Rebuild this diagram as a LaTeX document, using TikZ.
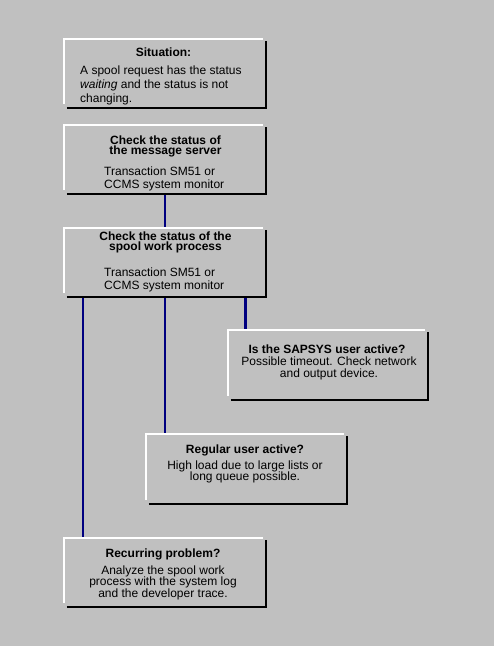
\documentclass[tikz,border=0pt]{standalone}
\usepackage{fontspec}
\setmainfont{Liberation Sans}
\usepackage{tikz}
\usepackage{xcolor}
\definecolor{Panel}{RGB}{192,192,192}
\definecolor{Wire}{RGB}{0,0,128}
\lineskiplimit=-20pt
\tikzset{
  panel/.style={minimum width=202pt, minimum height=69pt, inner sep=0pt},
  hilite/.style={white, line width=2pt},
  lowlite/.style={black, line width=2pt},
  wire/.style={Wire, line width=2pt},
  head/.style={font=\fontsize{12}{#1}\selectfont\bfseries, inner sep=0pt, align=center, anchor=north},
  head/.default=10.5,
  body/.style={font=\fontsize{12}{#1}\selectfont, inner sep=0pt, align=center, anchor=north},
  body/.default=13
}

\begin{document}
\begin{tikzpicture}[x=1pt,y=-1pt]
\fill[Panel] (0,0) rectangle (494,646);
\useasboundingbox (0,0) rectangle (494,646);
%
% panels
\node[panel] (sit) at (165,73.5) {};
\node[panel] (msg) at (165,159.5) {};
\node[panel] (spool) at (165,262.5) {};
\node[panel, minimum width=200pt] (sapsys) at (328,365) {};
\node[panel, minimum width=201pt, minimum height=70pt] (regular) at (246.5,469) {};
\node[panel] (recur) at (165,572.5) {};
%
% connectors
\coordinate (sapsysin) at ([xshift=17.5pt]sapsys.north west);
\draw[wire] (msg.south) -- (spool.north);
\draw[wire] ([xshift=19pt]spool.south west) -- ([xshift=19pt]recur.north west);
\draw[wire] (spool.south) -- (spool.south |- regular.north);
\draw[wire, line width=3pt] (sapsysin |- spool.south) -- (sapsysin);
%
% raised edges
\foreach \n in {sit,msg,spool,sapsys,regular,recur} {
  \draw[hilite] ([yshift=4pt]\n.south west) -- (\n.north west) -- ([xshift=-3pt]\n.north east);
  \draw[lowlite] ([xshift=3pt]\n.south west) -- (\n.south east) -- ([yshift=-2pt]\n.north east);
}
%
% texts
\node[head] (sitHead) at (163.5,47.2) {Situation:};
\node[body=14, anchor=north west, align=left] (sitBody) at (80,65.2) {A spool request has the status\\\textit{waiting} and the status is not\\changing.};
\node[head] (msgHead) at (165.5,135.2) {Check the status of\\the message server};
\node[body, anchor=north west, align=left] (msgBody) at (104,166.2) {Transaction SM51 or\\CCMS system monitor};
\node[head] (spoolHead) at (165.5,231.2) {Check the status of the\\spool work process};
\node[body, anchor=north west, align=left] (spoolBody) at (104,267.2) {Transaction SM51 or\\CCMS system monitor};
\node[head] (sapsysHead) at (327,344.5) {Is the SAPSYS user active?};
\node[body=12] (sapsysBody) at (329,356.2) {Possible timeout. Check network\\and output device.};
\node[head] (regularHead) at (245,444.5) {Regular user active?};
\node[body=11] (regularBody) at (245,460.2) {High load due to large lists or\\long queue possible.};
\node[head] (recurHead) at (163,548.5) {Recurring problem?};
\node[body=11.5] (recurBody) at (163,565.2) {Analyze the spool work\\process with the system log\\and the developer trace.};
\end{tikzpicture}
\end{document}
